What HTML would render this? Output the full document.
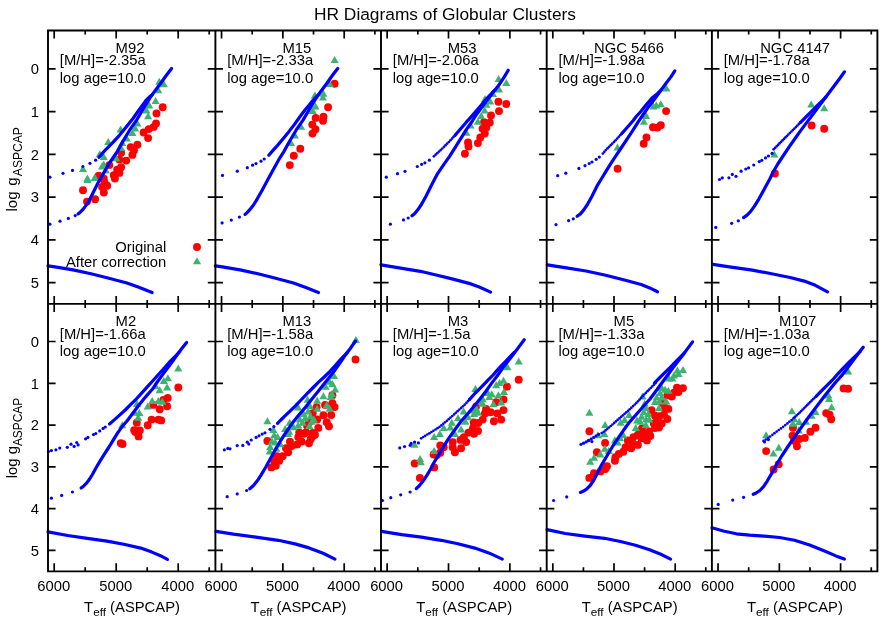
<!DOCTYPE html>
<html><head><meta charset="utf-8"><title>HR Diagrams of Globular Clusters</title>
<style>html,body{margin:0;padding:0;background:#fff}body{width:890px;height:623px;overflow:hidden;position:relative;font-family:"Liberation Sans",sans-serif}</style></head>
<body>
<svg width="890" height="623" viewBox="0 0 890 623" style="position:absolute;left:0;top:0" font-family="Liberation Sans, sans-serif" font-size="14.80" fill="#000">
<rect width="890" height="623" fill="#fff"/>
<g fill="#ff0000"><circle cx="156.5" cy="113.4" r="3.95"/><circle cx="156.0" cy="123.5" r="3.95"/><circle cx="153.7" cy="126.9" r="3.95"/><circle cx="148.7" cy="129.1" r="3.95"/><circle cx="143.6" cy="132.5" r="3.95"/><circle cx="148.1" cy="138.1" r="3.95"/><circle cx="137.4" cy="144.8" r="3.95"/><circle cx="130.7" cy="147.1" r="3.95"/><circle cx="134.0" cy="150.4" r="3.95"/><circle cx="132.4" cy="154.9" r="3.95"/><circle cx="121.1" cy="152.7" r="3.95"/><circle cx="126.2" cy="160.6" r="3.95"/><circle cx="119.4" cy="159.4" r="3.95"/><circle cx="121.1" cy="167.3" r="3.95"/><circle cx="117.2" cy="169.6" r="3.95"/><circle cx="119.4" cy="172.9" r="3.95"/><circle cx="113.8" cy="175.2" r="3.95"/><circle cx="114.9" cy="178.5" r="3.95"/><circle cx="109.3" cy="165.1" r="3.95"/><circle cx="98.7" cy="175.7" r="3.95"/><circle cx="103.7" cy="178.5" r="3.95"/><circle cx="162.7" cy="107.2" r="3.95"/><circle cx="83.0" cy="190.3" r="3.95"/><circle cx="87.0" cy="201.6" r="3.95"/><circle cx="95.1" cy="199.3" r="3.95"/><circle cx="104.4" cy="181.9" r="3.95"/><circle cx="107.2" cy="185.8" r="3.95"/><circle cx="102.1" cy="187.0" r="3.95"/><circle cx="103.8" cy="192.6" r="3.95"/></g>
<g fill="#3cb371"><path d="M148.1 112.3L152.1 119.3L144.0 119.3Z"/><path d="M146.4 106.4L150.5 113.5L142.4 113.5Z"/><path d="M137.4 119.4L141.5 126.4L133.4 126.4Z"/><path d="M135.2 124.4L139.2 131.4L131.1 131.4Z"/><path d="M132.4 128.9L136.4 135.9L128.3 135.9Z"/><path d="M126.7 134.5L130.8 141.6L122.7 141.6Z"/><path d="M120.6 125.5L124.6 132.6L116.5 132.6Z"/><path d="M108.2 137.9L112.3 144.9L104.2 144.9Z"/><path d="M122.2 139.0L126.3 146.0L118.2 146.0Z"/><path d="M121.1 144.1L125.2 151.1L117.1 151.1Z"/><path d="M99.8 150.3L103.8 157.3L95.7 157.3Z"/><path d="M103.7 153.1L107.8 160.1L99.7 160.1Z"/><path d="M116.1 154.2L120.1 161.2L112.0 161.2Z"/><path d="M103.7 160.4L107.8 167.4L99.7 167.4Z"/><path d="M102.0 162.6L106.1 169.6L98.0 169.6Z"/><path d="M82.9 164.9L87.0 171.9L78.9 171.9Z"/><path d="M106.0 166.6L110.0 173.6L101.9 173.6Z"/><path d="M87.4 174.4L91.5 181.4L83.4 181.4Z"/><path d="M94.7 173.9L98.8 180.9L90.7 180.9Z"/><path d="M159.3 77.8L163.4 84.8L155.3 84.8Z"/><path d="M163.8 80.3L167.9 87.3L159.8 87.3Z"/><path d="M158.2 86.2L162.3 93.2L154.2 93.2Z"/><path d="M155.6 96.9L159.7 103.9L151.6 103.9Z"/><path d="M149.2 101.4L153.3 108.4L145.2 108.4Z"/><path d="M87.5 176.1L91.6 183.1L83.5 183.1Z"/><path d="M94.8 173.9L98.9 180.9L90.8 180.9Z"/></g>
<g fill="none" stroke="#0000ff" stroke-width="3.2" stroke-linecap="round" stroke-linejoin="round"><path d="M171.6 68.5L166.4 75.3L160.7 83.2L155.1 90.7L149.8 98.2L146.0 104.5L142.6 110.0L136.6 120.1L129.6 130.2L122.8 141.5L117.2 151.6L111.2 160.5L107.2 166.7L102.7 174.6L98.2 182.5L93.7 191.5L89.8 199.3L86.4 204.9L83.0 209.4L80.2 212.2L78.0 213.9"/><path d="M152.5 94.4L150.0 96.5L146.0 100.5L142.5 105.3L139.0 110.0L133.0 118.5L126.2 126.9L119.4 135.3L112.7 142.6L106.0 149.3L101.5 154.4L99.0 157.2"/><path d="M48.0 265.8L55.0 266.9L73.0 269.9L91.0 273.7L108.9 278.2L126.9 283.0L139.5 287.5L152.1 292.6"/></g>
<g fill="#0000ff"><circle cx="95.6" cy="160.2" r="1.6"/><circle cx="90.0" cy="163.3" r="1.6"/><circle cx="82.9" cy="166.5" r="1.6"/><circle cx="72.5" cy="170.4" r="1.6"/><circle cx="63.0" cy="173.3" r="1.6"/><circle cx="49.9" cy="177.2" r="1.6"/><circle cx="75.2" cy="215.6" r="1.6"/><circle cx="68.4" cy="218.4" r="1.6"/><circle cx="60.0" cy="221.2" r="1.6"/><circle cx="49.9" cy="224.2" r="1.6"/></g>
<g fill="#ff0000"><circle cx="334.6" cy="83.7" r="3.95"/><circle cx="328.1" cy="107.3" r="3.95"/><circle cx="323.5" cy="116.7" r="3.95"/><circle cx="315.7" cy="117.9" r="3.95"/><circle cx="323.0" cy="120.7" r="3.95"/><circle cx="312.3" cy="124.6" r="3.95"/><circle cx="315.4" cy="129.3" r="3.95"/><circle cx="312.5" cy="133.6" r="3.95"/><circle cx="300.3" cy="148.8" r="3.95"/><circle cx="293.8" cy="155.8" r="3.95"/><circle cx="289.8" cy="165.1" r="3.95"/></g>
<g fill="#3cb371"><path d="M334.6 56.0L338.7 63.0L330.6 63.0Z"/><path d="M329.6 80.1L333.7 87.1L325.6 87.1Z"/><path d="M314.9 91.4L318.9 98.4L310.8 98.4Z"/><path d="M323.4 89.7L327.4 96.7L319.3 96.7Z"/><path d="M322.8 93.6L326.9 100.6L318.8 100.6Z"/><path d="M315.5 102.6L319.6 109.6L311.4 109.6Z"/><path d="M312.7 107.1L316.8 114.1L308.6 114.1Z"/><path d="M301.1 122.7L305.2 129.7L297.1 129.7Z"/><path d="M294.9 131.4L298.9 138.4L290.8 138.4Z"/><path d="M291.0 139.0L295.1 146.0L286.9 146.0Z"/></g>
<g fill="none" stroke="#0000ff" stroke-width="3.2" stroke-linecap="round" stroke-linejoin="round"><path d="M337.7 68.5L332.5 75.3L326.9 83.2L321.3 90.7L316.1 98.2L312.3 104.5L309.0 110.0L303.0 120.1L296.1 130.2L289.4 141.5L283.9 151.6L278.9 159.4L273.2 169.7L267.6 180.1L262.0 190.4L257.3 198.8L253.5 205.0L249.8 209.7L246.8 212.8L245.1 214.4"/><path d="M318.8 94.4L316.3 96.8L312.5 100.8L308.8 105.5L305.0 110.0L299.9 116.7L294.3 124.6L288.7 131.9L283.1 138.7L277.5 145.4L273.0 150.4L268.8 155.2"/><path d="M215.4 265.8L222.3 266.9L240.1 269.9L257.9 273.7L275.7 278.2L293.5 283.0L305.9 287.5L318.4 292.6"/></g>
<g fill="#0000ff"><circle cx="264.2" cy="159.0" r="1.6"/><circle cx="261.0" cy="161.2" r="1.6"/><circle cx="256.0" cy="163.6" r="1.6"/><circle cx="252.6" cy="165.2" r="1.6"/><circle cx="247.3" cy="167.7" r="1.6"/><circle cx="237.3" cy="171.2" r="1.6"/><circle cx="222.5" cy="175.4" r="1.6"/><circle cx="239.4" cy="217.1" r="1.6"/><circle cx="231.3" cy="220.1" r="1.6"/><circle cx="222.1" cy="222.9" r="1.6"/></g>
<g fill="#ff0000"><circle cx="498.4" cy="101.8" r="3.95"/><circle cx="506.3" cy="104.0" r="3.95"/><circle cx="499.0" cy="111.1" r="3.95"/><circle cx="491.0" cy="115.5" r="3.95"/><circle cx="489.8" cy="122.6" r="3.95"/><circle cx="484.0" cy="122.2" r="3.95"/><circle cx="482.6" cy="128.7" r="3.95"/><circle cx="486.3" cy="127.4" r="3.95"/><circle cx="484.8" cy="133.5" r="3.95"/><circle cx="480.3" cy="137.5" r="3.95"/><circle cx="477.9" cy="143.1" r="3.95"/><circle cx="468.0" cy="142.5" r="3.95"/><circle cx="468.5" cy="146.5" r="3.95"/><circle cx="464.9" cy="153.8" r="3.95"/></g>
<g fill="#3cb371"><path d="M485.0 95.1L489.1 102.1L480.9 102.1Z"/><path d="M498.7 75.0L502.8 82.0L494.6 82.0Z"/><path d="M506.3 79.1L510.4 86.1L502.2 86.1Z"/><path d="M499.0 85.6L503.1 92.6L494.9 92.6Z"/><path d="M493.0 90.1L497.1 97.1L488.9 97.1Z"/><path d="M490.2 97.4L494.2 104.4L486.1 104.4Z"/><path d="M486.3 100.8L490.4 107.8L482.2 107.8Z"/><path d="M484.6 106.4L488.7 113.4L480.6 113.4Z"/><path d="M481.2 112.0L485.2 119.0L477.1 119.0Z"/><path d="M477.9 117.7L481.9 124.7L473.8 124.7Z"/><path d="M470.6 121.6L474.7 128.6L466.6 128.6Z"/><path d="M466.3 128.8L470.4 135.8L462.2 135.8Z"/></g>
<g fill="none" stroke="#0000ff" stroke-width="3.2" stroke-linecap="round" stroke-linejoin="round"><path d="M508.2 70.3L504.3 76.9L498.7 85.3L493.0 92.6L487.4 99.9L481.8 107.2L476.3 114.7L471.9 121.7L466.3 129.6L460.7 138.6L455.1 147.6L449.4 156.6L444.4 163.7L437.6 173.6L431.7 184.8L426.1 196.0L421.4 204.5L417.6 210.1L414.8 213.5L412.0 215.8"/><path d="M495.0 90.0L491.9 93.0L486.3 99.0L480.7 105.8L475.1 112.4L469.8 118.4L466.3 122.2L460.7 128.7L455.1 135.2"/><path d="M381.0 264.8L400.7 268.2L420.3 271.3L437.2 275.2L454.0 279.4L470.9 283.9L479.3 287.0L490.6 292.1"/></g>
<g fill="#0000ff"><circle cx="429.4" cy="160.2" r="1.6"/><circle cx="424.9" cy="162.8" r="1.6"/><circle cx="421.6" cy="164.3" r="1.6"/><circle cx="417.3" cy="166.5" r="1.6"/><circle cx="405.0" cy="171.3" r="1.6"/><circle cx="397.5" cy="173.7" r="1.6"/><circle cx="386.3" cy="177.2" r="1.6"/><circle cx="408.2" cy="218.0" r="1.6"/><circle cx="403.5" cy="219.9" r="1.6"/><circle cx="390.4" cy="224.2" r="1.6"/><circle cx="455.1" cy="135.2" r="1.35"/><circle cx="453.5" cy="136.9" r="1.35"/><circle cx="452.0" cy="138.6" r="1.35"/><circle cx="450.4" cy="140.3" r="1.35"/><circle cx="448.8" cy="142.0" r="1.35"/><circle cx="447.2" cy="143.6" r="1.35"/><circle cx="445.6" cy="145.2" r="1.35"/><circle cx="444.0" cy="146.8" r="1.35"/><circle cx="442.3" cy="148.5" r="1.35"/><circle cx="440.7" cy="150.1" r="1.35"/><circle cx="439.0" cy="151.6" r="1.35"/><circle cx="437.3" cy="153.2" r="1.35"/><circle cx="435.6" cy="154.7" r="1.35"/><circle cx="433.9" cy="156.3" r="1.35"/></g>
<g fill="#ff0000"><circle cx="666.1" cy="111.1" r="3.95"/><circle cx="653.0" cy="127.2" r="3.95"/><circle cx="657.4" cy="127.6" r="3.95"/><circle cx="660.8" cy="125.2" r="3.95"/><circle cx="646.5" cy="137.5" r="3.95"/><circle cx="643.7" cy="143.7" r="3.95"/><circle cx="617.6" cy="168.7" r="3.95"/></g>
<g fill="#3cb371"><path d="M666.4 84.5L670.4 91.5L662.4 91.5Z"/><path d="M660.8 100.2L664.8 107.2L656.8 107.2Z"/><path d="M656.3 101.4L660.3 108.4L652.2 108.4Z"/><path d="M653.5 102.5L657.5 109.5L649.5 109.5Z"/><path d="M646.2 112.0L650.2 119.0L642.2 119.0Z"/><path d="M643.9 117.7L647.9 124.7L639.9 124.7Z"/><path d="M617.5 143.4L621.5 150.4L613.5 150.4Z"/></g>
<g fill="none" stroke="#0000ff" stroke-width="3.2" stroke-linecap="round" stroke-linejoin="round"><path d="M674.8 70.9L670.9 76.9L665.3 84.2L659.7 92.0L654.0 99.9L648.4 107.2L642.9 115.0L638.2 121.9L633.0 130.2L627.4 138.6L621.8 147.0L616.2 155.4L610.6 163.9L606.1 171.2L601.6 178.5L597.7 184.8L592.1 196.0L587.4 204.5L583.6 210.1L580.4 213.9L577.1 216.3"/><path d="M661.3 89.8L657.6 93.4L651.8 98.2L646.2 104.9L640.6 111.7L636.0 116.8L633.0 120.8L627.4 127.2L621.8 133.5"/><path d="M547.3 264.8L566.4 267.9L586.1 271.0L605.7 275.2L625.4 280.3L641.2 284.5L649.7 287.9L657.5 291.8"/></g>
<g fill="#0000ff"><circle cx="599.3" cy="157.1" r="1.6"/><circle cx="596.2" cy="159.3" r="1.6"/><circle cx="592.0" cy="162.0" r="1.6"/><circle cx="589.2" cy="163.5" r="1.6"/><circle cx="585.0" cy="165.7" r="1.6"/><circle cx="578.9" cy="168.4" r="1.6"/><circle cx="565.8" cy="173.2" r="1.6"/><circle cx="557.7" cy="175.7" r="1.6"/><circle cx="573.3" cy="218.8" r="1.6"/><circle cx="568.6" cy="220.6" r="1.6"/><circle cx="556.0" cy="224.6" r="1.6"/><circle cx="621.8" cy="133.5" r="1.35"/><circle cx="620.3" cy="135.2" r="1.35"/><circle cx="618.7" cy="136.9" r="1.35"/><circle cx="617.2" cy="138.6" r="1.35"/><circle cx="615.6" cy="140.3" r="1.35"/><circle cx="614.0" cy="141.9" r="1.35"/><circle cx="612.3" cy="143.6" r="1.35"/><circle cx="610.7" cy="145.2" r="1.35"/><circle cx="609.1" cy="146.8" r="1.35"/><circle cx="607.5" cy="148.4" r="1.35"/><circle cx="605.8" cy="150.1" r="1.35"/><circle cx="604.3" cy="151.8" r="1.35"/><circle cx="602.9" cy="153.6" r="1.35"/></g>
<g fill="#ff0000"><circle cx="811.6" cy="125.4" r="3.95"/><circle cx="824.2" cy="128.8" r="3.95"/><circle cx="774.9" cy="173.5" r="3.95"/></g>
<g fill="#3cb371"><path d="M811.2 100.6L815.2 107.6L807.2 107.6Z"/><path d="M824.2 104.2L828.2 111.2L820.2 111.2Z"/><path d="M774.4 150.4L778.4 157.4L770.4 157.4Z"/></g>
<g fill="none" stroke="#0000ff" stroke-width="3.2" stroke-linecap="round" stroke-linejoin="round"><path d="M844.4 71.9L839.7 78.5L834.1 86.0L828.5 93.5L822.8 101.0L817.2 108.5L811.6 116.1L805.9 123.6L800.3 131.1L794.7 139.0L789.0 147.1L783.4 155.5L777.8 164.0L773.1 172.0L770.2 178.2L764.6 188.5L759.0 198.8L754.3 206.4L750.5 211.6L746.8 215.4L743.6 217.6"/><path d="M826.0 96.8L822.6 100.5L817.2 105.7L811.6 111.4L805.9 117.0L800.3 122.6"/><path d="M712.9 264.3L731.1 267.1L750.8 269.9L770.4 273.5L790.1 277.5L804.2 281.1L815.4 285.3L827.5 291.8"/></g>
<g fill="#0000ff"><circle cx="772.1" cy="153.4" r="1.6"/><circle cx="768.4" cy="156.0" r="1.6"/><circle cx="765.5" cy="157.9" r="1.6"/><circle cx="761.8" cy="160.3" r="1.6"/><circle cx="759.3" cy="161.6" r="1.6"/><circle cx="753.7" cy="165.0" r="1.6"/><circle cx="748.6" cy="167.8" r="1.6"/><circle cx="745.8" cy="169.0" r="1.6"/><circle cx="741.1" cy="171.2" r="1.6"/><circle cx="736.0" cy="176.3" r="1.6"/><circle cx="732.3" cy="174.4" r="1.6"/><circle cx="728.9" cy="177.8" r="1.6"/><circle cx="722.3" cy="177.8" r="1.6"/><circle cx="719.5" cy="179.5" r="1.6"/><circle cx="738.3" cy="220.8" r="1.6"/><circle cx="731.7" cy="223.3" r="1.6"/><circle cx="715.8" cy="227.4" r="1.6"/><circle cx="800.3" cy="122.6" r="1.35"/><circle cx="798.8" cy="124.1" r="1.35"/><circle cx="797.4" cy="125.6" r="1.35"/><circle cx="795.9" cy="127.1" r="1.35"/><circle cx="794.4" cy="128.6" r="1.35"/><circle cx="792.9" cy="130.1" r="1.35"/><circle cx="791.4" cy="131.5" r="1.35"/><circle cx="789.9" cy="133.0" r="1.35"/><circle cx="788.4" cy="134.5" r="1.35"/><circle cx="786.9" cy="136.0" r="1.35"/><circle cx="785.5" cy="137.4" r="1.35"/><circle cx="784.0" cy="138.9" r="1.35"/><circle cx="782.5" cy="140.4" r="1.35"/><circle cx="781.0" cy="141.9" r="1.35"/><circle cx="779.5" cy="143.4" r="1.35"/><circle cx="778.1" cy="144.9" r="1.35"/><circle cx="776.6" cy="146.4" r="1.35"/><circle cx="775.1" cy="147.9" r="1.35"/><circle cx="773.6" cy="149.3" r="1.35"/></g>
<g fill="#ff0000"><circle cx="178.3" cy="387.5" r="3.95"/><circle cx="167.7" cy="397.9" r="3.95"/><circle cx="163.4" cy="399.9" r="3.95"/><circle cx="167.1" cy="406.3" r="3.95"/><circle cx="159.7" cy="409.2" r="3.95"/><circle cx="153.3" cy="404.9" r="3.95"/><circle cx="151.6" cy="419.6" r="3.95"/><circle cx="158.4" cy="419.6" r="3.95"/><circle cx="161.2" cy="420.4" r="3.95"/><circle cx="147.7" cy="425.2" r="3.95"/><circle cx="136.8" cy="422.7" r="3.95"/><circle cx="134.2" cy="430.2" r="3.95"/><circle cx="139.8" cy="430.4" r="3.95"/><circle cx="135.4" cy="432.1" r="3.95"/><circle cx="138.6" cy="436.4" r="3.95"/><circle cx="120.8" cy="443.2" r="3.95"/><circle cx="122.6" cy="444.0" r="3.95"/></g>
<g fill="#3cb371"><path d="M178.3 364.5L182.4 371.5L174.2 371.5Z"/><path d="M167.9 374.2L172.0 381.2L163.8 381.2Z"/><path d="M163.8 376.9L167.9 383.9L159.8 383.9Z"/><path d="M167.1 383.4L171.2 390.4L163.0 390.4Z"/><path d="M155.6 382.3L159.7 389.3L151.5 389.3Z"/><path d="M159.7 386.2L163.8 393.2L155.6 393.2Z"/><path d="M152.2 397.1L156.2 404.1L148.1 404.1Z"/><path d="M158.4 396.9L162.5 403.9L154.3 403.9Z"/><path d="M162.3 397.8L166.4 404.8L158.2 404.8Z"/><path d="M147.7 402.5L151.8 409.5L143.6 409.5Z"/><path d="M137.0 400.0L141.1 407.0L132.9 407.0Z"/><path d="M139.3 409.0L143.4 416.0L135.2 416.0Z"/><path d="M134.8 408.7L138.9 415.7L130.8 415.7Z"/><path d="M138.1 413.7L142.2 420.7L134.0 420.7Z"/><path d="M122.3 421.3L126.3 428.3L118.2 428.3Z"/></g>
<g fill="none" stroke="#0000ff" stroke-width="3.2" stroke-linecap="round" stroke-linejoin="round"><path d="M186.6 342.5L181.4 349.0L175.7 356.9L173.0 360.8L168.7 366.5L163.2 373.8L157.6 381.5L152.3 389.3L145.4 397.1L139.0 405.0L133.0 413.0L127.4 420.5L122.4 426.2L117.7 432.9L113.2 440.2L108.7 447.5L104.2 454.3L99.7 461.6L95.8 468.3L92.4 474.5L89.6 479.0L86.8 482.9L84.0 485.7L81.1 488.0"/><path d="M179.0 352.4L175.5 356.0L170.2 361.3L164.6 367.9L158.9 374.0L153.3 380.2L147.7 386.4L142.1 392.6L136.5 398.8L130.8 404.4L125.2 410.0L119.6 415.1L114.0 420.1L109.5 424.0"/><path d="M48.0 531.9L67.7 535.5L87.3 538.3L107.0 541.1L123.8 544.2L140.7 548.1L151.9 552.1L160.4 555.7L167.4 559.4"/></g>
<g fill="#0000ff"><circle cx="105.3" cy="427.0" r="1.6"/><circle cx="103.1" cy="428.4" r="1.6"/><circle cx="99.7" cy="430.9" r="1.6"/><circle cx="95.8" cy="433.5" r="1.6"/><circle cx="93.5" cy="434.6" r="1.6"/><circle cx="87.9" cy="437.4" r="1.6"/><circle cx="85.6" cy="438.8" r="1.6"/><circle cx="76.7" cy="442.5" r="1.6"/><circle cx="71.0" cy="444.2" r="1.6"/><circle cx="78.1" cy="444.9" r="1.6"/><circle cx="74.1" cy="446.4" r="1.6"/><circle cx="67.3" cy="447.3" r="1.6"/><circle cx="59.8" cy="448.1" r="1.6"/><circle cx="55.9" cy="449.8" r="1.6"/><circle cx="51.4" cy="450.6" r="1.6"/><circle cx="48.5" cy="451.5" r="1.6"/><circle cx="72.4" cy="492.0" r="1.6"/><circle cx="61.7" cy="495.4" r="1.6"/><circle cx="51.4" cy="498.2" r="1.6"/></g>
<g fill="#ff0000"><circle cx="332.4" cy="395.3" r="3.95"/><circle cx="325.1" cy="404.9" r="3.95"/><circle cx="334.6" cy="407.1" r="3.95"/><circle cx="332.4" cy="403.2" r="3.95"/><circle cx="316.6" cy="407.1" r="3.95"/><circle cx="331.2" cy="415.0" r="3.95"/><circle cx="323.4" cy="415.2" r="3.95"/><circle cx="312.7" cy="413.3" r="3.95"/><circle cx="317.2" cy="419.5" r="3.95"/><circle cx="326.7" cy="422.3" r="3.95"/><circle cx="329.0" cy="426.2" r="3.95"/><circle cx="318.3" cy="427.9" r="3.95"/><circle cx="309.3" cy="422.3" r="3.95"/><circle cx="307.1" cy="425.7" r="3.95"/><circle cx="299.2" cy="432.4" r="3.95"/><circle cx="306.0" cy="432.4" r="3.95"/><circle cx="312.7" cy="433.0" r="3.95"/><circle cx="314.9" cy="434.7" r="3.95"/><circle cx="312.9" cy="436.0" r="3.95"/><circle cx="310.7" cy="439.3" r="3.95"/><circle cx="309.0" cy="443.3" r="3.95"/><circle cx="303.9" cy="433.7" r="3.95"/><circle cx="298.3" cy="437.1" r="3.95"/><circle cx="301.7" cy="441.6" r="3.95"/><circle cx="297.2" cy="444.4" r="3.95"/><circle cx="289.9" cy="441.6" r="3.95"/><circle cx="291.6" cy="446.1" r="3.95"/><circle cx="286.0" cy="448.3" r="3.95"/><circle cx="288.2" cy="452.2" r="3.95"/><circle cx="282.6" cy="456.2" r="3.95"/><circle cx="277.0" cy="456.2" r="3.95"/><circle cx="279.2" cy="460.7" r="3.95"/><circle cx="274.2" cy="461.2" r="3.95"/><circle cx="275.8" cy="465.7" r="3.95"/><circle cx="271.3" cy="467.4" r="3.95"/><circle cx="267.4" cy="441.0" r="3.95"/><circle cx="355.5" cy="359.4" r="3.95"/></g>
<g fill="#3cb371"><path d="M334.0 372.1L338.1 379.1L329.9 379.1Z"/><path d="M329.6 377.7L333.7 384.7L325.6 384.7Z"/><path d="M332.4 380.0L336.4 387.0L328.3 387.0Z"/><path d="M325.6 382.8L329.7 389.8L321.6 389.8Z"/><path d="M335.2 385.6L339.2 392.6L331.1 392.6Z"/><path d="M331.8 390.1L335.9 397.1L327.8 397.1Z"/><path d="M330.7 392.9L334.8 399.9L326.6 399.9Z"/><path d="M323.4 392.3L327.4 399.3L319.3 399.3Z"/><path d="M317.2 396.8L321.2 403.8L313.1 403.8Z"/><path d="M307.6 395.7L311.7 402.7L303.6 402.7Z"/><path d="M309.9 401.9L313.9 408.9L305.8 408.9Z"/><path d="M326.7 401.3L330.8 408.3L322.6 408.3Z"/><path d="M329.6 404.7L333.7 411.7L325.6 411.7Z"/><path d="M317.2 404.7L321.2 411.7L313.1 411.7Z"/><path d="M298.1 403.6L302.2 410.6L294.1 410.6Z"/><path d="M308.2 407.5L312.2 414.5L304.1 414.5Z"/><path d="M303.7 410.3L307.8 417.3L299.6 417.3Z"/><path d="M310.4 412.5L314.4 419.5L306.3 419.5Z"/><path d="M313.8 415.4L317.9 422.4L309.8 422.4Z"/><path d="M299.8 415.4L303.9 422.4L295.8 422.4Z"/><path d="M302.6 418.7L306.7 425.7L298.6 425.7Z"/><path d="M309.3 422.1L313.4 429.1L305.2 429.1Z"/><path d="M298.1 421.5L302.2 428.5L294.1 428.5Z"/><path d="M273.4 426.0L277.4 433.0L269.3 433.0Z"/><path d="M285.2 424.9L289.2 431.9L281.1 431.9Z"/><path d="M289.7 418.7L293.8 425.7L285.6 425.7Z"/><path d="M293.6 423.2L297.7 430.2L289.6 430.2Z"/><path d="M289.1 427.7L293.2 434.7L285.1 434.7Z"/><path d="M305.1 414.4L309.2 421.4L301.1 421.4Z"/><path d="M311.8 417.8L315.9 424.8L307.8 424.8Z"/><path d="M274.2 431.3L278.2 438.3L270.1 438.3Z"/><path d="M277.5 432.9L281.6 439.9L273.4 439.9Z"/><path d="M271.9 437.4L275.9 444.4L267.8 444.4Z"/><path d="M275.3 438.6L279.4 445.6L271.2 445.6Z"/><path d="M280.3 440.2L284.4 447.2L276.2 447.2Z"/><path d="M270.2 443.1L274.2 450.1L266.1 450.1Z"/><path d="M276.4 444.7L280.4 451.7L272.3 451.7Z"/><path d="M269.7 447.5L273.8 454.5L265.6 454.5Z"/><path d="M267.4 417.2L271.4 424.2L263.3 424.2Z"/><path d="M288.2 430.1L292.2 437.1L284.1 437.1Z"/><path d="M355.9 335.9L359.9 342.9L351.8 342.9Z"/></g>
<g fill="none" stroke="#0000ff" stroke-width="3.2" stroke-linecap="round" stroke-linejoin="round"><path d="M355.5 341.0L350.3 348.5L344.6 356.0L339.2 364.0L334.2 371.0L328.4 378.5L322.2 386.3L316.2 393.7L310.3 401.0L304.5 408.4L298.4 415.6L292.2 423.3L286.6 431.5L281.0 440.0L275.5 449.5L270.2 459.0L265.7 467.2L261.0 475.1L257.3 480.8L253.5 485.5L249.8 488.7"/><path d="M347.0 353.0L343.5 356.3L340.0 360.0L335.5 365.2L330.0 371.3L324.2 377.0L318.3 382.4L312.7 388.0L307.1 393.7L301.5 399.5L295.9 405.3L290.3 410.8L284.7 416.2L280.3 420.5L277.5 423.4"/><path d="M216.0 531.3L233.4 534.1L255.9 537.2L278.3 540.3L295.0 543.9L309.0 547.9L323.1 553.2L334.9 559.1"/></g>
<g fill="#0000ff"><circle cx="273.9" cy="426.6" r="1.6"/><circle cx="270.0" cy="429.3" r="1.6"/><circle cx="265.0" cy="432.8" r="1.6"/><circle cx="262.2" cy="434.1" r="1.6"/><circle cx="259.0" cy="435.8" r="1.6"/><circle cx="256.1" cy="437.4" r="1.6"/><circle cx="251.2" cy="440.0" r="1.6"/><circle cx="248.8" cy="444.1" r="1.6"/><circle cx="247.3" cy="442.2" r="1.6"/><circle cx="242.8" cy="445.4" r="1.6"/><circle cx="237.2" cy="445.6" r="1.6"/><circle cx="230.0" cy="448.8" r="1.6"/><circle cx="227.8" cy="448.4" r="1.6"/><circle cx="224.4" cy="449.8" r="1.6"/><circle cx="246.6" cy="490.5" r="1.6"/><circle cx="237.2" cy="493.9" r="1.6"/><circle cx="227.2" cy="496.7" r="1.6"/></g>
<g fill="#ff0000"><circle cx="518.7" cy="379.7" r="3.95"/><circle cx="506.9" cy="386.7" r="3.95"/><circle cx="503.5" cy="399.4" r="3.95"/><circle cx="496.2" cy="402.2" r="3.95"/><circle cx="503.5" cy="410.1" r="3.95"/><circle cx="486.1" cy="408.9" r="3.95"/><circle cx="484.9" cy="413.4" r="3.95"/><circle cx="490.6" cy="412.3" r="3.95"/><circle cx="497.3" cy="413.4" r="3.95"/><circle cx="501.2" cy="419.6" r="3.95"/><circle cx="493.9" cy="421.3" r="3.95"/><circle cx="482.7" cy="419.6" r="3.95"/><circle cx="473.7" cy="422.4" r="3.95"/><circle cx="478.2" cy="423.0" r="3.95"/><circle cx="476.0" cy="406.7" r="3.95"/><circle cx="472.9" cy="428.1" r="3.95"/><circle cx="478.0" cy="430.9" r="3.95"/><circle cx="474.0" cy="433.7" r="3.95"/><circle cx="468.4" cy="432.6" r="3.95"/><circle cx="463.9" cy="437.1" r="3.95"/><circle cx="466.2" cy="442.1" r="3.95"/><circle cx="460.6" cy="439.9" r="3.95"/><circle cx="452.7" cy="442.1" r="3.95"/><circle cx="452.7" cy="447.2" r="3.95"/><circle cx="461.1" cy="448.3" r="3.95"/><circle cx="454.9" cy="452.2" r="3.95"/><circle cx="440.3" cy="445.5" r="3.95"/><circle cx="443.7" cy="447.2" r="3.95"/><circle cx="440.3" cy="452.8" r="3.95"/><circle cx="433.6" cy="454.5" r="3.95"/><circle cx="437.0" cy="455.1" r="3.95"/><circle cx="434.2" cy="467.4" r="3.95"/><circle cx="414.7" cy="463.5" r="3.95"/><circle cx="419.9" cy="477.9" r="3.95"/></g>
<g fill="#3cb371"><path d="M518.7 357.6L522.8 364.6L514.7 364.6Z"/><path d="M507.4 363.2L511.4 370.2L503.3 370.2Z"/><path d="M503.5 376.7L507.6 383.7L499.4 383.7Z"/><path d="M499.6 379.0L503.7 386.0L495.6 386.0Z"/><path d="M496.2 381.2L500.2 388.2L492.1 388.2Z"/><path d="M504.0 387.9L508.1 394.9L499.9 394.9Z"/><path d="M498.4 391.3L502.4 398.3L494.3 398.3Z"/><path d="M491.7 390.2L495.8 397.2L487.6 397.2Z"/><path d="M487.8 389.1L491.9 396.1L483.8 396.1Z"/><path d="M489.4 393.0L493.4 400.0L485.3 400.0Z"/><path d="M482.7 395.2L486.8 402.2L478.6 402.2Z"/><path d="M475.4 385.1L479.4 392.1L471.3 392.1Z"/><path d="M501.2 398.6L505.2 405.6L497.1 405.6Z"/><path d="M493.4 400.3L497.4 407.3L489.3 407.3Z"/><path d="M482.7 399.7L486.8 406.7L478.6 406.7Z"/><path d="M479.3 397.5L483.4 404.5L475.2 404.5Z"/><path d="M473.7 406.5L477.8 413.5L469.6 413.5Z"/><path d="M478.2 408.7L482.2 415.7L474.1 415.7Z"/><path d="M476.0 404.2L480.1 411.2L471.9 411.2Z"/><path d="M463.6 407.6L467.7 414.6L459.6 414.6Z"/><path d="M458.0 414.3L462.1 421.3L453.9 421.3Z"/><path d="M451.8 418.8L455.9 425.8L447.8 425.8Z"/><path d="M468.1 413.2L472.2 420.2L464.1 420.2Z"/><path d="M465.3 417.7L469.4 424.7L461.2 424.7Z"/><path d="M450.4 423.4L454.4 430.4L446.3 430.4Z"/><path d="M461.1 425.6L465.2 432.6L457.1 432.6Z"/><path d="M443.7 424.0L447.8 431.0L439.6 431.0Z"/><path d="M439.8 430.1L443.9 437.1L435.8 437.1Z"/><path d="M434.2 432.9L438.2 439.9L430.1 439.9Z"/><path d="M454.9 430.1L458.9 437.1L450.8 437.1Z"/><path d="M434.2 447.0L438.2 454.0L430.1 454.0Z"/><path d="M420.1 454.9L424.2 461.9L416.1 461.9Z"/><path d="M420.7 458.2L424.8 465.2L416.6 465.2Z"/><path d="M414.5 440.8L418.6 447.8L410.4 447.8Z"/><path d="M474.0 409.9L478.1 416.9L469.9 416.9Z"/></g>
<g fill="none" stroke="#0000ff" stroke-width="3.2" stroke-linecap="round" stroke-linejoin="round"><path d="M524.2 339.7L519.1 346.6L513.2 354.5L508.5 360.6L502.9 367.9L497.3 375.8L491.7 383.1L486.1 391.0L480.0 399.0L474.0 406.3L468.2 413.2L461.5 420.8L455.2 429.2L449.2 437.6L443.5 446.6L438.2 455.6L433.4 463.5L430.5 469.2L427.0 475.1L423.3 480.8L419.5 485.5L416.3 488.6"/><path d="M514.0 352.5L510.4 356.3L506.0 361.0L501.0 366.2L496.0 371.7L493.1 375.0L488.0 380.2L483.0 385.3L478.0 390.3L475.3 393.0L469.6 399.4"/><path d="M381.5 531.3L401.7 534.7L421.4 537.2L441.1 540.3L457.9 543.7L474.8 548.1L488.8 552.9L502.3 559.1"/></g>
<g fill="#0000ff"><circle cx="418.4" cy="442.9" r="1.6"/><circle cx="414.6" cy="442.0" r="1.6"/><circle cx="411.1" cy="443.4" r="1.6"/><circle cx="410.1" cy="445.3" r="1.6"/><circle cx="404.5" cy="446.6" r="1.6"/><circle cx="399.8" cy="447.9" r="1.6"/><circle cx="410.1" cy="492.0" r="1.6"/><circle cx="400.7" cy="494.8" r="1.6"/><circle cx="390.8" cy="497.7" r="1.6"/><circle cx="382.5" cy="500.5" r="1.6"/><circle cx="469.6" cy="399.4" r="1.35"/><circle cx="468.0" cy="401.2" r="1.35"/><circle cx="466.4" cy="402.9" r="1.35"/><circle cx="464.7" cy="404.7" r="1.35"/><circle cx="462.9" cy="406.3" r="1.35"/><circle cx="461.2" cy="407.9" r="1.35"/><circle cx="459.4" cy="409.6" r="1.35"/><circle cx="457.6" cy="411.2" r="1.35"/><circle cx="455.8" cy="412.8" r="1.35"/><circle cx="454.1" cy="414.4" r="1.35"/><circle cx="452.3" cy="416.0" r="1.35"/><circle cx="450.5" cy="417.6" r="1.35"/><circle cx="448.7" cy="419.2" r="1.35"/><circle cx="446.9" cy="420.8" r="1.35"/><circle cx="445.0" cy="422.3" r="1.35"/><circle cx="443.2" cy="423.8" r="1.35"/><circle cx="441.4" cy="425.4" r="1.35"/><circle cx="439.5" cy="426.9" r="1.35"/><circle cx="437.5" cy="428.2" r="1.35"/><circle cx="435.5" cy="429.5" r="1.35"/><circle cx="433.4" cy="430.8" r="1.35"/><circle cx="431.4" cy="432.0" r="1.35"/><circle cx="429.4" cy="433.3" r="1.35"/><circle cx="427.3" cy="434.5" r="1.35"/><circle cx="425.2" cy="435.8" r="1.35"/><circle cx="423.2" cy="437.0" r="1.35"/><circle cx="421.2" cy="438.3" r="1.35"/></g>
<g fill="#ff0000"><circle cx="683.0" cy="388.1" r="3.95"/><circle cx="676.9" cy="387.8" r="3.95"/><circle cx="678.5" cy="392.1" r="3.95"/><circle cx="674.0" cy="392.6" r="3.95"/><circle cx="671.8" cy="396.6" r="3.95"/><circle cx="667.3" cy="395.4" r="3.95"/><circle cx="668.4" cy="408.9" r="3.95"/><circle cx="665.1" cy="407.8" r="3.95"/><circle cx="662.8" cy="403.3" r="3.95"/><circle cx="651.6" cy="410.1" r="3.95"/><circle cx="654.9" cy="415.7" r="3.95"/><circle cx="659.4" cy="416.2" r="3.95"/><circle cx="667.3" cy="419.0" r="3.95"/><circle cx="663.9" cy="414.6" r="3.95"/><circle cx="657.2" cy="421.3" r="3.95"/><circle cx="653.8" cy="423.5" r="3.95"/><circle cx="661.7" cy="423.5" r="3.95"/><circle cx="649.2" cy="431.5" r="3.95"/><circle cx="650.3" cy="436.0" r="3.95"/><circle cx="644.7" cy="433.7" r="3.95"/><circle cx="646.9" cy="440.4" r="3.95"/><circle cx="641.3" cy="438.2" r="3.95"/><circle cx="637.9" cy="434.8" r="3.95"/><circle cx="633.4" cy="437.1" r="3.95"/><circle cx="637.9" cy="444.9" r="3.95"/><circle cx="632.3" cy="442.7" r="3.95"/><circle cx="627.8" cy="440.4" r="3.95"/><circle cx="631.2" cy="448.3" r="3.95"/><circle cx="625.6" cy="447.2" r="3.95"/><circle cx="623.3" cy="451.7" r="3.95"/><circle cx="618.8" cy="453.9" r="3.95"/><circle cx="615.4" cy="457.3" r="3.95"/><circle cx="614.9" cy="460.7" r="3.95"/><circle cx="589.4" cy="431.2" r="3.95"/><circle cx="605.1" cy="442.9" r="3.95"/><circle cx="596.9" cy="452.2" r="3.95"/><circle cx="607.0" cy="466.3" r="3.95"/><circle cx="605.3" cy="469.1" r="3.95"/><circle cx="589.3" cy="477.9" r="3.95"/><circle cx="594.0" cy="473.2" r="3.95"/><circle cx="600.5" cy="471.4" r="3.95"/><circle cx="655.0" cy="428.0" r="3.95"/><circle cx="642.0" cy="428.5" r="3.95"/><circle cx="659.0" cy="427.5" r="3.95"/></g>
<g fill="#3cb371"><path d="M683.0 366.0L687.0 373.0L679.0 373.0Z"/><path d="M677.4 366.6L681.4 373.6L673.4 373.6Z"/><path d="M678.5 370.0L682.5 377.0L674.5 377.0Z"/><path d="M674.0 371.6L678.0 378.6L670.0 378.6Z"/><path d="M672.4 374.5L676.4 381.5L668.4 381.5Z"/><path d="M669.0 374.5L673.0 381.5L665.0 381.5Z"/><path d="M661.7 384.0L665.8 391.0L657.7 391.0Z"/><path d="M665.1 385.7L669.1 392.7L661.1 392.7Z"/><path d="M668.4 386.8L672.4 393.8L664.4 393.8Z"/><path d="M660.0 389.1L664.0 396.1L656.0 396.1Z"/><path d="M656.6 393.6L660.6 400.6L652.6 400.6Z"/><path d="M661.7 393.6L665.8 400.6L657.7 400.6Z"/><path d="M654.9 398.1L658.9 405.1L650.9 405.1Z"/><path d="M659.4 397.5L663.4 404.5L655.4 404.5Z"/><path d="M658.9 404.2L662.9 411.2L654.9 411.2Z"/><path d="M666.2 397.5L670.2 404.5L662.2 404.5Z"/><path d="M642.6 392.4L646.6 399.4L638.6 399.4Z"/><path d="M646.0 404.2L650.0 411.2L642.0 411.2Z"/><path d="M643.7 408.2L647.8 415.2L639.7 415.2Z"/><path d="M648.2 409.9L652.2 416.9L644.2 416.9Z"/><path d="M641.5 412.7L645.5 419.7L637.5 419.7Z"/><path d="M646.0 415.5L650.0 422.5L642.0 422.5Z"/><path d="M649.3 415.5L653.3 422.5L645.2 422.5Z"/><path d="M624.6 416.0L628.6 423.0L620.6 423.0Z"/><path d="M629.1 411.0L633.1 418.0L625.1 418.0Z"/><path d="M637.0 416.6L641.0 423.6L633.0 423.6Z"/><path d="M640.3 417.7L644.3 424.7L636.2 424.7Z"/><path d="M620.7 418.8L624.8 425.8L616.7 425.8Z"/><path d="M644.7 399.8L648.8 406.8L640.7 406.8Z"/><path d="M645.8 421.1L649.8 428.1L641.8 428.1Z"/><path d="M635.7 424.0L639.8 431.0L631.7 431.0Z"/><path d="M605.1 420.9L609.1 427.9L601.1 427.9Z"/><path d="M589.4 408.8L593.4 415.8L585.4 415.8Z"/><path d="M604.4 430.1L608.4 437.1L600.4 437.1Z"/><path d="M598.0 431.3L602.0 438.3L594.0 438.3Z"/><path d="M623.3 431.3L627.3 438.3L619.2 438.3Z"/><path d="M619.9 434.1L623.9 441.1L615.9 441.1Z"/><path d="M614.9 436.3L618.9 443.3L610.9 443.3Z"/><path d="M617.7 438.6L621.8 445.6L613.7 445.6Z"/><path d="M604.8 444.7L608.8 451.7L600.8 451.7Z"/><path d="M600.3 450.4L604.3 457.4L596.2 457.4Z"/><path d="M594.1 453.7L598.1 460.7L590.1 460.7Z"/><path d="M590.2 457.7L594.2 464.7L586.2 464.7Z"/><path d="M608.7 447.0L612.8 454.0L604.7 454.0Z"/></g>
<g fill="none" stroke="#0000ff" stroke-width="3.2" stroke-linecap="round" stroke-linejoin="round"><path d="M692.6 341.9L687.0 349.4L682.5 355.5L678.2 361.0L672.8 368.0L667.2 375.8L661.6 383.3L655.8 391.2L650.0 399.0L643.5 406.3L636.7 414.0L629.7 421.9L623.5 430.3L617.6 438.8L612.1 447.2L606.7 456.2L601.8 464.6L597.5 472.8L594.0 479.8L590.2 485.5L586.5 489.2L583.6 491.1L580.4 492.4"/><path d="M684.0 353.3L681.3 356.1L676.3 361.2L670.7 366.8L665.1 372.4L659.4 378.0L654.4 383.1"/><path d="M547.0 529.6L565.3 533.5L584.9 536.1L604.6 538.3L621.5 541.7L635.5 545.3L649.6 549.8L660.8 554.3L670.6 559.1"/></g>
<g fill="#0000ff"><circle cx="598.6" cy="434.3" r="1.6"/><circle cx="596.1" cy="435.8" r="1.6"/><circle cx="593.7" cy="437.4" r="1.6"/><circle cx="591.2" cy="438.9" r="1.6"/><circle cx="588.7" cy="440.4" r="1.6"/><circle cx="586.2" cy="441.9" r="1.6"/><circle cx="583.6" cy="443.2" r="1.6"/><circle cx="581.0" cy="444.3" r="1.6"/><circle cx="588.5" cy="440.6" r="1.6"/><circle cx="591.9" cy="441.6" r="1.6"/><circle cx="566.7" cy="496.9" r="1.6"/><circle cx="553.6" cy="500.5" r="1.6"/><circle cx="655.6" cy="383.1" r="1.35"/><circle cx="654.0" cy="384.7" r="1.35"/><circle cx="652.3" cy="386.4" r="1.35"/><circle cx="650.7" cy="388.0" r="1.35"/><circle cx="649.1" cy="389.6" r="1.35"/><circle cx="647.5" cy="391.2" r="1.35"/><circle cx="645.8" cy="392.9" r="1.35"/><circle cx="644.2" cy="394.5" r="1.35"/><circle cx="642.7" cy="396.2" r="1.35"/><circle cx="641.2" cy="397.9" r="1.35"/><circle cx="639.6" cy="399.6" r="1.35"/><circle cx="638.0" cy="401.3" r="1.35"/><circle cx="636.4" cy="402.9" r="1.35"/><circle cx="634.8" cy="404.5" r="1.35"/><circle cx="633.1" cy="406.1" r="1.35"/><circle cx="631.4" cy="407.7" r="1.35"/><circle cx="629.7" cy="409.3" r="1.35"/><circle cx="628.0" cy="410.8" r="1.35"/><circle cx="626.3" cy="412.3" r="1.35"/><circle cx="624.6" cy="413.8" r="1.35"/><circle cx="622.8" cy="415.4" r="1.35"/><circle cx="621.1" cy="416.9" r="1.35"/><circle cx="619.4" cy="418.4" r="1.35"/><circle cx="617.6" cy="419.9" r="1.35"/><circle cx="615.9" cy="421.4" r="1.35"/><circle cx="614.2" cy="422.9" r="1.35"/><circle cx="612.5" cy="424.5" r="1.35"/><circle cx="610.7" cy="426.0" r="1.35"/><circle cx="609.0" cy="427.5" r="1.35"/><circle cx="607.3" cy="429.0" r="1.35"/><circle cx="605.5" cy="430.4" r="1.35"/><circle cx="603.7" cy="431.8" r="1.35"/><circle cx="601.7" cy="433.1" r="1.35"/></g>
<g fill="#ff0000"><circle cx="843.6" cy="388.4" r="3.95"/><circle cx="848.1" cy="388.8" r="3.95"/><circle cx="826.2" cy="413.1" r="3.95"/><circle cx="829.6" cy="414.8" r="3.95"/><circle cx="831.2" cy="419.3" r="3.95"/><circle cx="815.5" cy="427.8" r="3.95"/><circle cx="810.4" cy="431.7" r="3.95"/><circle cx="804.8" cy="437.9" r="3.95"/><circle cx="799.2" cy="439.0" r="3.95"/><circle cx="793.0" cy="427.8" r="3.95"/><circle cx="792.5" cy="435.6" r="3.95"/><circle cx="794.2" cy="440.7" r="3.95"/><circle cx="797.0" cy="446.3" r="3.95"/><circle cx="766.1" cy="451.1" r="3.95"/><circle cx="778.7" cy="464.2" r="3.95"/><circle cx="773.6" cy="469.5" r="3.95"/></g>
<g fill="#3cb371"><path d="M828.4 391.6L832.4 398.6L824.4 398.6Z"/><path d="M829.0 395.0L833.0 402.0L825.0 402.0Z"/><path d="M831.6 403.2L835.6 410.2L827.6 410.2Z"/><path d="M815.5 407.9L819.5 414.9L811.5 414.9Z"/><path d="M811.6 411.8L815.6 418.8L807.6 418.8Z"/><path d="M806.0 417.8L810.0 424.8L802.0 424.8Z"/><path d="M799.2 418.0L803.2 425.0L795.2 425.0Z"/><path d="M793.0 419.7L797.0 426.7L789.0 426.7Z"/><path d="M791.9 407.3L795.9 414.3L787.9 414.3Z"/><path d="M794.2 415.2L798.2 422.2L790.2 422.2Z"/><path d="M798.7 426.4L802.8 433.4L794.7 433.4Z"/><path d="M778.8 443.8L782.8 450.8L774.8 450.8Z"/><path d="M848.2 367.6L852.2 374.6L844.2 374.6Z"/><path d="M766.1 431.3L770.1 438.3L762.1 438.3Z"/><path d="M773.4 449.4L777.4 456.4L769.4 456.4Z"/></g>
<g fill="none" stroke="#0000ff" stroke-width="3.2" stroke-linecap="round" stroke-linejoin="round"><path d="M863.2 347.2L858.5 353.2L852.9 360.7L847.3 368.2L841.6 375.7L837.2 380.5L832.2 386.4L825.9 394.2L820.0 402.0L814.0 409.9L808.2 417.7L802.6 425.5L797.3 433.2L792.1 440.5L787.3 447.5L781.5 456.3L775.9 465.7L771.2 474.2L767.4 480.8L763.7 486.4L759.9 490.5L756.1 493.0L753.3 494.3"/><path d="M860.4 351.3L854.8 356.6L849.1 362.2L843.5 367.8L837.9 373.8L832.3 380.2L827.3 385.1L821.7 390.7L816.1 396.3"/><path d="M712.0 527.8L723.3 531.0L736.4 533.8L749.5 535.1L764.5 536.2L779.6 537.5L794.6 540.3L809.6 545.0L824.6 551.0L835.9 555.9L844.3 559.1"/></g>
<g fill="#0000ff"><circle cx="768.4" cy="439.6" r="1.6"/><circle cx="764.5" cy="442.0" r="1.6"/><circle cx="743.6" cy="497.3" r="1.6"/><circle cx="732.7" cy="500.1" r="1.6"/><circle cx="718.2" cy="504.4" r="1.6"/><circle cx="816.1" cy="396.3" r="1.35"/><circle cx="814.6" cy="397.8" r="1.35"/><circle cx="813.1" cy="399.2" r="1.35"/><circle cx="811.6" cy="400.7" r="1.35"/><circle cx="810.1" cy="402.2" r="1.35"/><circle cx="808.6" cy="403.7" r="1.35"/><circle cx="807.1" cy="405.2" r="1.35"/><circle cx="805.7" cy="406.6" r="1.35"/><circle cx="804.2" cy="408.1" r="1.35"/><circle cx="802.7" cy="409.6" r="1.35"/><circle cx="801.2" cy="411.1" r="1.35"/><circle cx="799.7" cy="412.6" r="1.35"/><circle cx="798.2" cy="414.0" r="1.35"/><circle cx="796.6" cy="415.4" r="1.35"/><circle cx="795.1" cy="416.9" r="1.35"/><circle cx="793.6" cy="418.2" r="1.35"/><circle cx="791.6" cy="420.0" r="1.35"/><circle cx="789.5" cy="421.7" r="1.35"/><circle cx="787.4" cy="423.4" r="1.35"/><circle cx="785.3" cy="425.1" r="1.35"/><circle cx="783.2" cy="426.8" r="1.35"/><circle cx="781.0" cy="428.4" r="1.35"/><circle cx="778.8" cy="430.0" r="1.35"/><circle cx="776.7" cy="431.6" r="1.35"/><circle cx="774.5" cy="433.2" r="1.35"/><circle cx="772.4" cy="434.8" r="1.35"/><circle cx="770.2" cy="436.5" r="1.35"/><circle cx="768.0" cy="438.1" r="1.35"/><circle cx="765.8" cy="439.6" r="1.35"/><circle cx="763.5" cy="440.9" r="1.35"/></g>
<g stroke="#000" stroke-width="1.9" fill="none" stroke-linecap="butt">
<path d="M48.00 30.45H877.40V571.35H48.00Z"/>
<path d="M48.00 303.90H877.40"/>
<path d="M215.40 30.45V571.35"/>
<path d="M381.00 30.45V571.35"/>
<path d="M546.70 30.45V571.35"/>
<path d="M711.90 30.45V571.35"/>
</g>
<g stroke="#000" stroke-width="1.7" fill="none">
<path d="M54.20 30.45v8.00M54.20 295.90v16.00M54.20 571.35v-8.00"/>
<path d="M85.20 30.45v4.00M85.20 299.90v8.00M85.20 571.35v-4.00"/>
<path d="M116.20 30.45v8.00M116.20 295.90v16.00M116.20 571.35v-8.00"/>
<path d="M147.20 30.45v4.00M147.20 299.90v8.00M147.20 571.35v-4.00"/>
<path d="M178.20 30.45v8.00M178.20 295.90v16.00M178.20 571.35v-8.00"/>
<path d="M209.20 30.45v4.00M209.20 299.90v8.00M209.20 571.35v-4.00"/>
<path d="M48.00 68.90h7.60M215.40 68.90h-7.60"/>
<path d="M48.00 111.63h7.60M215.40 111.63h-7.60"/>
<path d="M48.00 154.36h7.60M215.40 154.36h-7.60"/>
<path d="M48.00 197.08h7.60M215.40 197.08h-7.60"/>
<path d="M48.00 239.81h7.60M215.40 239.81h-7.60"/>
<path d="M48.00 282.54h7.60M215.40 282.54h-7.60"/>
<path d="M48.00 341.51h7.60M215.40 341.51h-7.60"/>
<path d="M48.00 383.30h7.60M215.40 383.30h-7.60"/>
<path d="M48.00 425.09h7.60M215.40 425.09h-7.60"/>
<path d="M48.00 466.88h7.60M215.40 466.88h-7.60"/>
<path d="M48.00 508.67h7.60M215.40 508.67h-7.60"/>
<path d="M48.00 550.46h7.60M215.40 550.46h-7.60"/>
<path d="M221.53 30.45v8.00M221.53 295.90v16.00M221.53 571.35v-8.00"/>
<path d="M252.20 30.45v4.00M252.20 299.90v8.00M252.20 571.35v-4.00"/>
<path d="M282.87 30.45v8.00M282.87 295.90v16.00M282.87 571.35v-8.00"/>
<path d="M313.53 30.45v4.00M313.53 299.90v8.00M313.53 571.35v-4.00"/>
<path d="M344.20 30.45v8.00M344.20 295.90v16.00M344.20 571.35v-8.00"/>
<path d="M374.87 30.45v4.00M374.87 299.90v8.00M374.87 571.35v-4.00"/>
<path d="M215.40 68.90h7.60M381.00 68.90h-7.60"/>
<path d="M215.40 111.63h7.60M381.00 111.63h-7.60"/>
<path d="M215.40 154.36h7.60M381.00 154.36h-7.60"/>
<path d="M215.40 197.08h7.60M381.00 197.08h-7.60"/>
<path d="M215.40 239.81h7.60M381.00 239.81h-7.60"/>
<path d="M215.40 282.54h7.60M381.00 282.54h-7.60"/>
<path d="M215.40 341.51h7.60M381.00 341.51h-7.60"/>
<path d="M215.40 383.30h7.60M381.00 383.30h-7.60"/>
<path d="M215.40 425.09h7.60M381.00 425.09h-7.60"/>
<path d="M215.40 466.88h7.60M381.00 466.88h-7.60"/>
<path d="M215.40 508.67h7.60M381.00 508.67h-7.60"/>
<path d="M215.40 550.46h7.60M381.00 550.46h-7.60"/>
<path d="M387.14 30.45v8.00M387.14 295.90v16.00M387.14 571.35v-8.00"/>
<path d="M417.82 30.45v4.00M417.82 299.90v8.00M417.82 571.35v-4.00"/>
<path d="M448.51 30.45v8.00M448.51 295.90v16.00M448.51 571.35v-8.00"/>
<path d="M479.19 30.45v4.00M479.19 299.90v8.00M479.19 571.35v-4.00"/>
<path d="M509.88 30.45v8.00M509.88 295.90v16.00M509.88 571.35v-8.00"/>
<path d="M540.56 30.45v4.00M540.56 299.90v8.00M540.56 571.35v-4.00"/>
<path d="M381.00 68.90h7.60M546.70 68.90h-7.60"/>
<path d="M381.00 111.63h7.60M546.70 111.63h-7.60"/>
<path d="M381.00 154.36h7.60M546.70 154.36h-7.60"/>
<path d="M381.00 197.08h7.60M546.70 197.08h-7.60"/>
<path d="M381.00 239.81h7.60M546.70 239.81h-7.60"/>
<path d="M381.00 282.54h7.60M546.70 282.54h-7.60"/>
<path d="M381.00 341.51h7.60M546.70 341.51h-7.60"/>
<path d="M381.00 383.30h7.60M546.70 383.30h-7.60"/>
<path d="M381.00 425.09h7.60M546.70 425.09h-7.60"/>
<path d="M381.00 466.88h7.60M546.70 466.88h-7.60"/>
<path d="M381.00 508.67h7.60M546.70 508.67h-7.60"/>
<path d="M381.00 550.46h7.60M546.70 550.46h-7.60"/>
<path d="M552.82 30.45v8.00M552.82 295.90v16.00M552.82 571.35v-8.00"/>
<path d="M583.41 30.45v4.00M583.41 299.90v8.00M583.41 571.35v-4.00"/>
<path d="M614.00 30.45v8.00M614.00 295.90v16.00M614.00 571.35v-8.00"/>
<path d="M644.60 30.45v4.00M644.60 299.90v8.00M644.60 571.35v-4.00"/>
<path d="M675.19 30.45v8.00M675.19 295.90v16.00M675.19 571.35v-8.00"/>
<path d="M705.78 30.45v4.00M705.78 299.90v8.00M705.78 571.35v-4.00"/>
<path d="M546.70 68.90h7.60M711.90 68.90h-7.60"/>
<path d="M546.70 111.63h7.60M711.90 111.63h-7.60"/>
<path d="M546.70 154.36h7.60M711.90 154.36h-7.60"/>
<path d="M546.70 197.08h7.60M711.90 197.08h-7.60"/>
<path d="M546.70 239.81h7.60M711.90 239.81h-7.60"/>
<path d="M546.70 282.54h7.60M711.90 282.54h-7.60"/>
<path d="M546.70 341.51h7.60M711.90 341.51h-7.60"/>
<path d="M546.70 383.30h7.60M711.90 383.30h-7.60"/>
<path d="M546.70 425.09h7.60M711.90 425.09h-7.60"/>
<path d="M546.70 466.88h7.60M711.90 466.88h-7.60"/>
<path d="M546.70 508.67h7.60M711.90 508.67h-7.60"/>
<path d="M546.70 550.46h7.60M711.90 550.46h-7.60"/>
<path d="M718.03 30.45v8.00M718.03 295.90v16.00M718.03 571.35v-8.00"/>
<path d="M748.68 30.45v4.00M748.68 299.90v8.00M748.68 571.35v-4.00"/>
<path d="M779.33 30.45v8.00M779.33 295.90v16.00M779.33 571.35v-8.00"/>
<path d="M809.97 30.45v4.00M809.97 299.90v8.00M809.97 571.35v-4.00"/>
<path d="M840.62 30.45v8.00M840.62 295.90v16.00M840.62 571.35v-8.00"/>
<path d="M871.27 30.45v4.00M871.27 299.90v8.00M871.27 571.35v-4.00"/>
<path d="M711.90 68.90h7.60M877.40 68.90h-7.60"/>
<path d="M711.90 111.63h7.60M877.40 111.63h-7.60"/>
<path d="M711.90 154.36h7.60M877.40 154.36h-7.60"/>
<path d="M711.90 197.08h7.60M877.40 197.08h-7.60"/>
<path d="M711.90 239.81h7.60M877.40 239.81h-7.60"/>
<path d="M711.90 282.54h7.60M877.40 282.54h-7.60"/>
<path d="M711.90 341.51h7.60M877.40 341.51h-7.60"/>
<path d="M711.90 383.30h7.60M877.40 383.30h-7.60"/>
<path d="M711.90 425.09h7.60M877.40 425.09h-7.60"/>
<path d="M711.90 466.88h7.60M877.40 466.88h-7.60"/>
<path d="M711.90 508.67h7.60M877.40 508.67h-7.60"/>
<path d="M711.90 550.46h7.60M877.40 550.46h-7.60"/>
</g>
<g opacity="0.999">
<text x="445" y="20.2" font-size="17.33" text-anchor="middle">HR Diagrams of Globular Clusters</text>
<text x="115.6" y="52.5">M92</text>
<text x="59.8" y="65.3">[M/H]=-2.35a</text>
<text x="59.8" y="82.7">log age=10.0</text>
<text x="282.4" y="52.5">M15</text>
<text x="227.2" y="65.3">[M/H]=-2.33a</text>
<text x="227.2" y="82.7">log age=10.0</text>
<text x="447.8" y="52.5">M53</text>
<text x="392.8" y="65.3">[M/H]=-2.06a</text>
<text x="392.8" y="82.7">log age=10.0</text>
<text x="594.1" y="52.5">NGC 5466</text>
<text x="558.5" y="65.3">[M/H]=-1.98a</text>
<text x="558.5" y="82.7">log age=10.0</text>
<text x="760.2" y="52.5">NGC 4147</text>
<text x="723.7" y="65.3">[M/H]=-1.78a</text>
<text x="723.7" y="82.7">log age=10.0</text>
<text x="115.6" y="325.9">M2</text>
<text x="59.8" y="338.8">[M/H]=-1.66a</text>
<text x="59.8" y="356.1">log age=10.0</text>
<text x="282.4" y="325.9">M13</text>
<text x="227.2" y="338.8">[M/H]=-1.58a</text>
<text x="227.2" y="356.1">log age=10.0</text>
<text x="447.8" y="325.9">M3</text>
<text x="392.8" y="338.8">[M/H]=-1.5a</text>
<text x="392.8" y="356.1">log age=10.0</text>
<text x="613.6" y="325.9">M5</text>
<text x="558.5" y="338.8">[M/H]=-1.33a</text>
<text x="558.5" y="356.1">log age=10.0</text>
<text x="779.1" y="325.9">M107</text>
<text x="723.7" y="338.8">[M/H]=-1.03a</text>
<text x="723.7" y="356.1">log age=10.0</text>
<text x="39" y="74.1" text-anchor="end">0</text>
<text x="39" y="116.8" text-anchor="end">1</text>
<text x="39" y="159.6" text-anchor="end">2</text>
<text x="39" y="202.3" text-anchor="end">3</text>
<text x="39" y="245.0" text-anchor="end">4</text>
<text x="39" y="287.7" text-anchor="end">5</text>
<text transform="translate(17.1 211.6) rotate(-90)" x="0" y="0" font-size="15.1" word-spacing="1.5">log g<tspan font-size="12.1" dy="4.5" dx="1.2">ASPCAP</tspan></text>
<text x="39" y="346.7" text-anchor="end">0</text>
<text x="39" y="388.5" text-anchor="end">1</text>
<text x="39" y="430.3" text-anchor="end">2</text>
<text x="39" y="472.1" text-anchor="end">3</text>
<text x="39" y="513.9" text-anchor="end">4</text>
<text x="39" y="555.7" text-anchor="end">5</text>
<text transform="translate(17.1 478.2) rotate(-90)" x="0" y="0" font-size="14.8">log g<tspan font-size="11.9" dy="4.5">ASPCAP</tspan></text>
<text x="53.7" y="590.8" text-anchor="middle">6000</text>
<text x="115.7" y="590.8" text-anchor="middle">5000</text>
<text x="177.7" y="590.8" text-anchor="middle">4000</text>
<text x="84.1" y="611.6">T<tspan font-size="11.73" dy="4.3">eff</tspan><tspan dy="-4.3"> (ASPCAP)</tspan></text>
<text x="221.0" y="590.8" text-anchor="middle">6000</text>
<text x="282.4" y="590.8" text-anchor="middle">5000</text>
<text x="343.7" y="590.8" text-anchor="middle">4000</text>
<text x="250.6" y="611.6">T<tspan font-size="11.73" dy="4.3">eff</tspan><tspan dy="-4.3"> (ASPCAP)</tspan></text>
<text x="386.6" y="590.8" text-anchor="middle">6000</text>
<text x="448.0" y="590.8" text-anchor="middle">5000</text>
<text x="509.4" y="590.8" text-anchor="middle">4000</text>
<text x="416.2" y="611.6">T<tspan font-size="11.73" dy="4.3">eff</tspan><tspan dy="-4.3"> (ASPCAP)</tspan></text>
<text x="552.3" y="590.8" text-anchor="middle">6000</text>
<text x="613.5" y="590.8" text-anchor="middle">5000</text>
<text x="674.7" y="590.8" text-anchor="middle">4000</text>
<text x="581.7" y="611.6">T<tspan font-size="11.73" dy="4.3">eff</tspan><tspan dy="-4.3"> (ASPCAP)</tspan></text>
<text x="717.5" y="590.8" text-anchor="middle">6000</text>
<text x="778.8" y="590.8" text-anchor="middle">5000</text>
<text x="840.1" y="590.8" text-anchor="middle">4000</text>
<text x="747.0" y="611.6">T<tspan font-size="11.73" dy="4.3">eff</tspan><tspan dy="-4.3"> (ASPCAP)</tspan></text>
<text x="166.3" y="251.9" text-anchor="end">Original</text>
<text x="166.3" y="266.5" text-anchor="end">After correction</text>
<circle cx="197" cy="247" r="3.95" fill="#ff0000"/>
<path fill="#3cb371" d="M197.0 257.3L201.1 264.3L192.9 264.3Z"/>
</g>
</svg>
</body></html>
